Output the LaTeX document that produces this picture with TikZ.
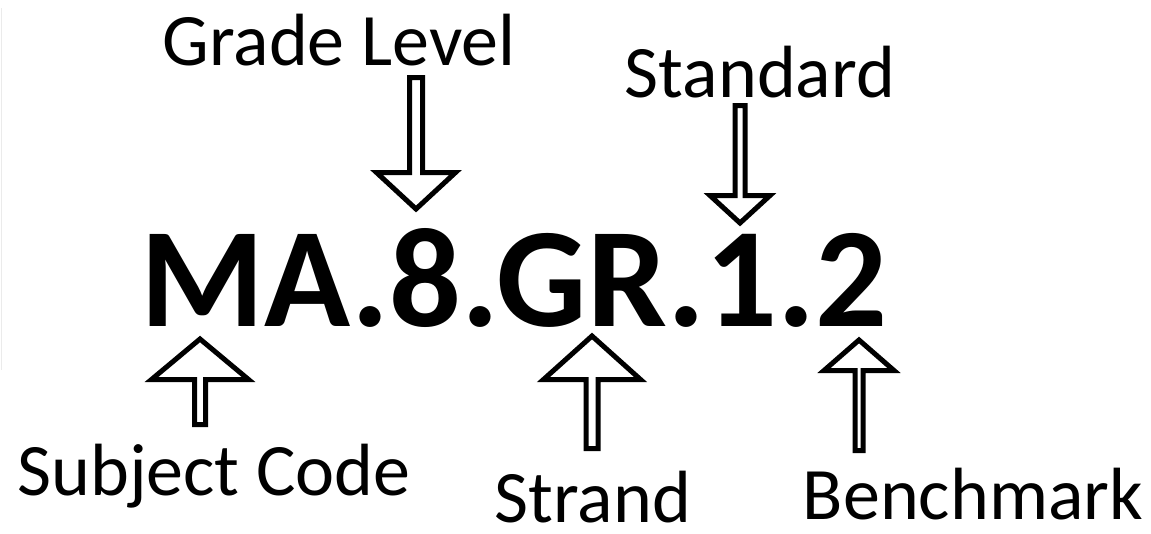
\documentclass[tikz,border=0pt]{standalone}
\usepackage{fontspec}
\setmainfont{Carlito}
\begin{document}
\begin{tikzpicture}[x=1pt, y=-1pt,
  label/.style={font=\fontsize{74}{80}\selectfont, inner sep=0pt, text depth=0pt, anchor=base},
  code/.style={font=\fontsize{142}{150}\selectfont\bfseries, inner sep=0pt, anchor=base},
  blockarrow/.style={draw=black, fill=white, line width=5pt, line join=miter, miter limit=20}]
% canvas
\useasboundingbox[fill=white] (0,0) rectangle (1151,533);
\draw[black!8, line width=1pt] (1,8) -- (1,370);

% vertical block arrow: centre x, tip y, head-base y, head half-width, shaft half-width, tail y
\newcommand\vblockarrow[6]{%
  \draw[blockarrow] (#1,#2) -- (#1+#4,#3) -- (#1+#5,#3) -- (#1+#5,#6)
    -- (#1-#5,#6) -- (#1-#5,#3) -- (#1-#4,#3) -- cycle;}

% the code itself
\node[code] (code) at (514,326) {MA.8.GR.1.2};

% labels
\node[label] (grade)     at (339,65)  {Grade Level};
\node[label] (standard)  at (760,97)  {Standard};
\node[label] (subject)   at (214,495) {Subject Code};
\node[label] (strand)    at (593,522) {Strand};
\node[label] (benchmark) at (973,519) {Benchmark};

% arrows from each label to its part of the code
\vblockarrow{416}{209}{172.5}{39.5}{6.5}{77.5}
\vblockarrow{740}{223}{195.5}{30}{5}{105.5}
\vblockarrow{200}{339}{379.5}{48.5}{5.5}{424.5}
\vblockarrow{592}{336}{379.5}{48.5}{6}{448.5}
\vblockarrow{859}{340}{370.5}{35}{4}{450.5}
\end{tikzpicture}
\end{document}
